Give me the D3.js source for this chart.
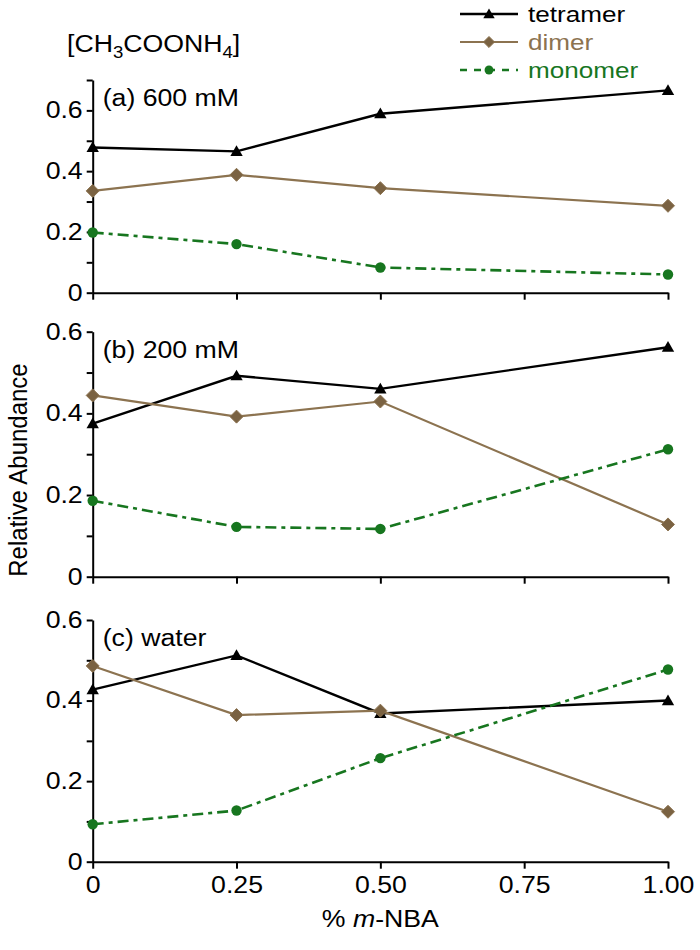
<!DOCTYPE html>
<html>
<head>
<meta charset="utf-8">
<script src="https://cdn.jsdelivr.net/npm/d3@7"></script>
<style>
  html, body { margin: 0; padding: 0; background: #fff; }
  svg text { font-family: "Liberation Sans", Arial, sans-serif; }
</style>
</head>
<body>
<svg id="chart" width="700" height="950"></svg>
<script>
// ---------- data ----------
const xValues = [0, 0.25, 0.5, 1.0];
const xTickValues = [0, 0.25, 0.5, 0.75, 1.0];
const xTickLabels = ["0", "0.25", "0.50", "0.75", "1.00"];
const seriesNames = ["tetramer", "dimer", "monomer"];
const panelLabels = ["(a) 600 mM", "(b) 200 mM", "(c) water"];
const panelYMax = [0.7, 0.6, 0.6];

const tetramerA = [0.478, 0.465, 0.589, 0.666];
const dimerA    = [0.335, 0.388, 0.344, 0.286];
const monomerA  = [0.198, 0.160, 0.083, 0.060];

const tetramerB = [0.375, 0.492, 0.460, 0.562];
const dimerB    = [0.444, 0.392, 0.429, 0.128];
const monomerB  = [0.186, 0.122, 0.117, 0.312];

const tetramerC = [0.427, 0.512, 0.368, 0.400];
const dimerC    = [0.486, 0.364, 0.375, 0.124];
const monomerC  = [0.093, 0.127, 0.257, 0.477];

const panelData = [
  [tetramerA, dimerA, monomerA],
  [tetramerB, dimerB, monomerB],
  [tetramerC, dimerC, monomerC]
];

// ---------- styles / layout ----------
const colors = { tetramer: "#000000", dimer: "#8c7350", monomer: "#17761f" };
const dashes = { tetramer: null, dimer: null, monomer: "11,5,4,5" };
const widths = { tetramer: 2.4, dimer: 2.2, monomer: 2.6 };
const panelPix = [[80, 292.7], [331.7, 576.7], [620, 861.7]];
const xLeft = 92.7, xRight = 668;
const FONT = 23;
const SX = 1.16; // horizontal stretch of the reference lettering

const svg = d3.select("#chart");
const x = d3.scaleLinear().domain([0, 1]).range([xLeft, xRight]);

function stretchText(sel, attr) {
  sel.each(function () {
    const t = d3.select(this);
    const v = +t.attr(attr) || 0;
    t.attr(attr, 0);
    t.attr("transform", attr === "x" ? `translate(${v},0) scale(${SX},1)` : `translate(0,${v}) scale(${SX},1)`);
  });
}

function addText(parent, tx, ty, size) {
  return parent.append("text").attr("transform", `translate(${tx},${ty}) scale(${SX},1)`)
    .attr("font-size", size);
}

function marker(g, name, cx, cy, s) {
  const c = colors[name];
  if (name === "tetramer") {
    g.append("path").attr("d", d3.symbol(d3.symbolTriangle, s * 66)())
      .attr("transform", `translate(${cx},${cy + 1})`).attr("fill", c);
  } else if (name === "dimer") {
    const r = 6.5 * s;
    g.append("path").attr("d", `M0,${-r}L${r},0L0,${r}L${-r},0Z`)
      .attr("transform", `translate(${cx},${cy})`).attr("fill", "#7a6242").attr("stroke", c).attr("stroke-width", 1);
  } else {
    g.append("circle").attr("cx", cx).attr("cy", cy).attr("r", 5.2 * s).attr("fill", c);
  }
}

panelData.forEach((series, pi) => {
  const [top, bottom] = panelPix[pi];
  const yMax = panelYMax[pi];
  const y = d3.scaleLinear().domain([0, yMax]).range([bottom, top]);
  const g = svg.append("g");

  // y axis
  const yTicks = d3.range(0, Math.round(yMax * 10) + 1).map(d => d / 10);
  const yAxis = d3.axisLeft(y).tickValues(yTicks).tickSize(6).tickSizeOuter(0).tickPadding(4)
    .tickFormat(d => (Math.round(d * 10) % 2 === 0) ? (d === 0 ? "0" : d3.format(".1f")(d)) : "");
  const ya = g.append("g").attr("transform", `translate(${xLeft},0)`).call(yAxis);
  ya.selectAll("path, line").attr("stroke", "#000").attr("stroke-width", 2);
  ya.selectAll("text").attr("font-size", FONT).attr("fill", "#000")
    .attr("font-family", "Liberation Sans, Arial, sans-serif");
  stretchText(ya.selectAll("text"), "x");

  // x axis
  const last = pi === panelData.length - 1;
  const xAxis = d3.axisBottom(x).tickValues(xTickValues).tickSize(7).tickSizeOuter(0).tickPadding(8)
    .tickFormat((d, i) => last ? xTickLabels[i] : "");
  const xa = g.append("g").attr("transform", `translate(0,${bottom})`).call(xAxis);
  xa.selectAll("path, line").attr("stroke", "#000").attr("stroke-width", 2);
  xa.selectAll("text").attr("font-size", FONT).attr("fill", "#000")
    .attr("font-family", "Liberation Sans, Arial, sans-serif");
  stretchText(xa.selectAll("text"), "y");

  // panel label
  addText(g, xLeft + 10, top + 26, FONT).attr("fill", "#000").text(panelLabels[pi]);

  // series
  series.forEach((vals, si) => {
    const name = seriesNames[si];
    const pts = xValues.map((xv, k) => [x(xv), y(vals[k])]);
    g.append("path").attr("d", d3.line()(pts)).attr("fill", "none")
      .attr("stroke", colors[name]).attr("stroke-width", widths[name])
      .attr("stroke-dasharray", dashes[name]);
  });
  series.forEach((vals, si) => {
    const name = seriesNames[si];
    xValues.forEach((xv, k) => marker(g, name, x(xv), y(vals[k]), 1));
  });
});

// title
const title = addText(svg, 67, 52, FONT).attr("fill", "#000");
title.append("tspan").text("[CH");
title.append("tspan").attr("font-size", 16).attr("dy", 6).text("3");
title.append("tspan").attr("dy", -6).text("COONH");
title.append("tspan").attr("font-size", 16).attr("dy", 6).text("4");
title.append("tspan").attr("dy", -6).text("]");

// legend
const legY = [14, 42, 70];
seriesNames.forEach((name, i) => {
  const lg = svg.append("g");
  lg.append("line").attr("x1", 460).attr("x2", 518).attr("y1", legY[i]).attr("y2", legY[i])
    .attr("stroke", colors[name]).attr("stroke-width", widths[name])
    .attr("stroke-dasharray", name === "monomer" ? "7,7" : null);
  marker(lg, name, 489, legY[i], 0.85);
  addText(lg, 528, legY[i] + 8, 22.5).attr("fill", colors[name]).text(name);
});

// axis titles
svg.append("text").attr("transform", "translate(27,470) rotate(-90) scale(1,1.1)")
  .attr("text-anchor", "middle").attr("font-size", 24).attr("fill", "#000").text("Relative Abundance");

const xt = addText(svg, (xLeft + xRight) / 2, 927, FONT).attr("text-anchor", "middle").attr("fill", "#000");
xt.append("tspan").text("% ");
xt.append("tspan").attr("font-style", "italic").text("m");
xt.append("tspan").text("-NBA");
</script>
</body>
</html>
